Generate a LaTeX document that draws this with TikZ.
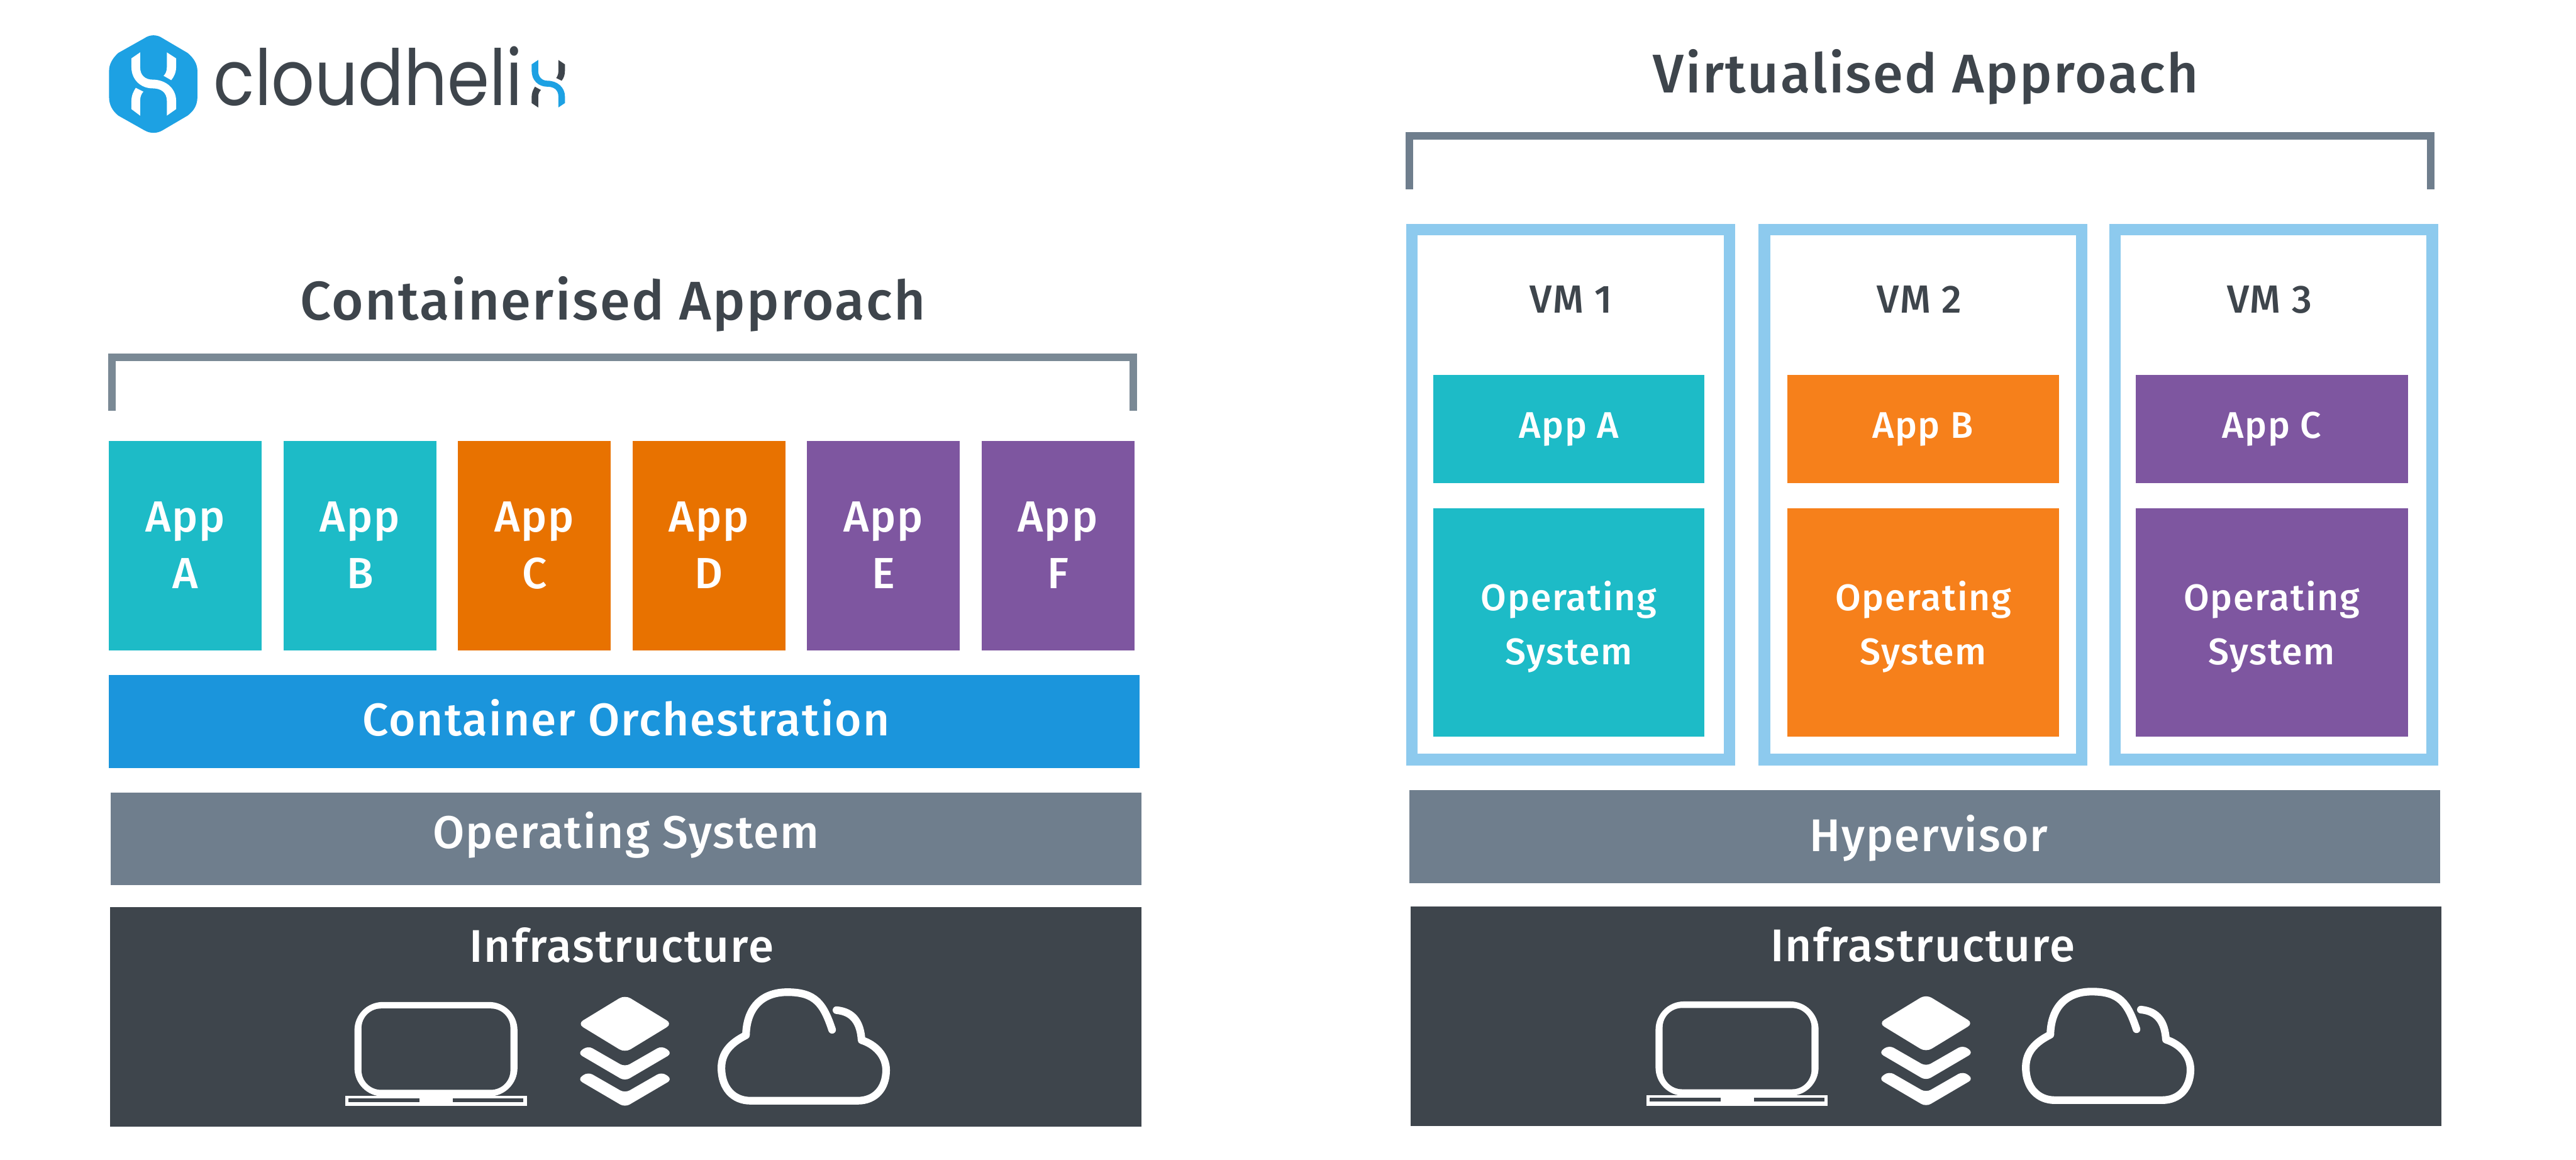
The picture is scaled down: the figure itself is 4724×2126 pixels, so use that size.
\documentclass[tikz,border=0pt]{standalone}
\usepackage{fontspec}
\setmainfont{Fira Sans Medium}[LetterSpace=2.8]
\newfontfamily\logofont{Poppins}
\definecolor{cteal}{HTML}{1DBBC7}
\definecolor{corangeL}{HTML}{E87200}
\definecolor{corangeR}{HTML}{F6801B}
\definecolor{cpurple}{HTML}{7E56A0}
\definecolor{cblue}{HTML}{1B95DC}
\definecolor{cgray}{HTML}{6F7E8D}
\definecolor{cbrack}{HTML}{7A8995}
\definecolor{cdark}{HTML}{3E454C}
\definecolor{cframe}{HTML}{8DCAEE}
\definecolor{clogo}{HTML}{1DA1E3}
\newcommand{\fpx}[1]{\fontsize{#1}{#1}\selectfont}
\tikzset{
  x=0.5pt,y=-0.5pt,
  lbl/.style={anchor=base,inner sep=0pt,outer sep=0pt,text=white},
  darklbl/.style={lbl,text=cdark},
  twolbl/.style={lbl,align=center,font=\fontsize{40}{52}\selectfont},
  oslbl/.style={lbl,align=center,font=\fontsize{34}{50}\selectfont},
  bracket/.style={draw=#1,line width=7pt,line cap=butt,line join=miter},
  vmframe/.style={draw=cframe,line width=10.5pt,fill=white,line join=miter},
  icon/.pic={
    % laptop
    \fill[white,rounded corners=26] (650,1837) rectangle (949,2010);
    \fill[cdark,rounded corners=18] (663,1849) rectangle (936,1998);
    \fill[white] (633,2009) rectangle (966,2028);
    \fill[cdark] (639,2014) rectangle (769,2021);
    \fill[cdark] (830,2014) rectangle (960,2021);
    % layers
    \fill[white,rounded corners=6] (1146,1824) -- (1233,1877) -- (1146,1930) -- (1059,1877) -- cycle;
    \foreach \d in {0,48}{
      \fill[white,rounded corners=5] (1078,1917+\d) -- (1146,1956+\d) -- (1214,1917+\d) -- (1233,1931+\d) -- (1146,1982+\d) -- (1059,1931+\d) -- cycle;
    }
  },
  cloudicon/.pic={
    \draw[white,line width=7pt,line cap=round,line join=round]
      (1526,1888) .. controls (1510,1840) and (1495,1819) .. (1444,1819)
      .. controls (1395,1819) and (1369,1850) .. (1368,1898)
      .. controls (1340,1912) and (1323,1930) .. (1323,1958)
      .. controls (1323,1995) and (1345,2018) .. (1376,2018)
      -- (1573,2018)
      .. controls (1605,2018) and (1625,1995) .. (1625,1962)
      .. controls (1625,1935) and (1605,1915) .. (1580,1907)
      .. controls (1578,1875) and (1565,1855) .. (1534,1852);
  }
}
\begin{document}
\begin{tikzpicture}
\useasboundingbox (0,0) rectangle (4724,2126);
\fill[white] (0,0) rectangle (4724,2126);

% ---- logo
\fill[clogo] (265,70) .. controls (275,63) and (288,63) .. (298,70) -- (344,97)
  .. controls (356,107) and (362,118) .. (362,130) -- (362,178)
  .. controls (362,192) and (356,203) .. (344,212) -- (298,239)
  .. controls (288,245) and (275,245) .. (265,239) -- (217,212)
  .. controls (206,203) and (200,192) .. (200,178) -- (200,130)
  .. controls (200,118) and (206,107) .. (217,97) -- cycle;
\fill[white] (257,96) -- (241,107) -- (241,123) .. controls (241,146) and (258,162) .. (280,162)
  .. controls (296,162) and (306,170) .. (306,185) -- (306,212) -- (323,200) -- (323,185)
  .. controls (323,162) and (304,146) .. (280,146) .. controls (266,146) and (257,138) .. (257,123) -- cycle;
\fill[white] (306,96) -- (323,107) -- (323,123) .. controls (323,133) and (319,141) .. (314,147)
  -- (300,139) .. controls (304,135) and (306,130) .. (306,123) -- cycle;
\fill[white] (257,212) -- (241,200) -- (241,185) .. controls (241,175) and (245,167) .. (249,161)
  -- (263,168) .. controls (259,172) and (257,178) .. (257,185) -- cycle;
\node[darklbl,anchor=base west,xscale=0.875,transform shape] (logotext) at (392,193) {\logofont\fontsize{71}{71}\selectfont cloudheli};
\fill[clogo] (987,110) -- (975,118) -- (975,130) .. controls (975,147) and (987,159) .. (1004,159)
  .. controls (1016,159) and (1024,165) .. (1024,177) -- (1024,197) -- (1036,189) -- (1036,177)
  .. controls (1036,160) and (1022,148) .. (1004,148) .. controls (994,148) and (987,141) .. (987,130) -- cycle;
\fill[cdark] (1024,110) -- (1036,118) -- (1036,130) .. controls (1036,137) and (1034,143) .. (1030,148)
  -- (1020,143) .. controls (1023,139) and (1024,135) .. (1024,130) -- cycle;
\fill[cdark] (987,197) -- (975,189) -- (975,177) .. controls (975,170) and (978,164) .. (981,159)
  -- (992,165) .. controls (989,168) and (987,172) .. (987,177) -- cycle;

% ---- left column
\node[darklbl] (titleL) at (1124,586) {\fpx{50}Containerised Approach};
\draw[bracket=cbrack] (205,753) -- (205,655) -- (2078,655) -- (2078,753);

\fill[cteal] (200,809) rectangle (480,1193);
\fill[cteal] (520,809) rectangle (800,1193);
\fill[corangeL] (840,809) rectangle (1120,1193);
\fill[corangeL] (1160,809) rectangle (1440,1193);
\fill[cpurple] (1480,809) rectangle (1760,1193);
\fill[cpurple] (1800,809) rectangle (2080,1193);

\node[twolbl] (appA) at (340,1079) {App\\A};
\node[twolbl] (appB) at (660,1079) {App\\B};
\node[twolbl] (appC) at (980,1079) {App\\C};
\node[twolbl] (appD) at (1300,1079) {App\\D};
\node[twolbl] (appE) at (1620,1079) {App\\E};
\node[twolbl] (appF) at (1940,1079) {App\\F};

\fill[cblue] (200,1238) rectangle (2090,1408);
\node[lbl] (orch) at (1148,1349) {\fpx{42}Container Orchestration};
\fill[cgray] (203,1453) rectangle (2093,1623);
\node[lbl] (osL) at (1148,1555) {\fpx{42}Operating System};
\fill[cdark] (202,1663) rectangle (2093,2065);
\node[lbl] (infraL) at (1140,1764) {\fpx{42}Infrastructure};
\pic {icon};
\pic {cloudicon};

% ---- right column
\node[darklbl] (titleR) at (3532,170) {\fpx{50}Virtualised Approach};
\draw[bracket=cgray] (2585,347) -- (2585,249) -- (4458,249) -- (4458,347);

\draw[vmframe] (2589.5,420.5) rectangle (3171.5,1392.5);
\draw[vmframe] (3235.5,420.5) rectangle (3817.5,1392.5);
\draw[vmframe] (3878.5,420.5) rectangle (4460.5,1392.5);

\node[darklbl] (vm1) at (2881,574) {\fpx{36}VM 1};
\node[darklbl] (vm2) at (3520,574) {\fpx{36}VM 2};
\node[darklbl] (vm3) at (4162,574) {\fpx{36}VM 3};

\fill[cteal] (2628,687) rectangle (3126,886);
\fill[corangeR] (3278,687) rectangle (3776,886);
\fill[cpurple] (3917,687) rectangle (4416,886);
\node[lbl] (rappA) at (2877,803) {\fpx{34}App A};
\node[lbl] (rappB) at (3526,803) {\fpx{34}App B};
\node[lbl] (rappC) at (4166,803) {\fpx{34}App C};

\fill[cteal] (2628,932) rectangle (3126,1350);
\fill[corangeR] (3278,932) rectangle (3776,1350);
\fill[cpurple] (3917,932) rectangle (4416,1350);
\node[oslbl] (rosA) at (2877,1219) {Operating\\System};
\node[oslbl] (rosB) at (3527,1219) {Operating\\System};
\node[oslbl] (rosC) at (4166,1219) {Operating\\System};

\fill[cgray] (2585,1449) rectangle (4475,1619);
\node[lbl] (hyper) at (3537,1561) {\fpx{42}Hypervisor};
\fill[cdark] (2587,1662) rectangle (4477,2064);
\node[lbl] (infraR) at (3526,1763) {\fpx{42}Infrastructure};
\pic[shift={(2386,-1)}] {icon};
\pic[shift={(2392,-1)}] {cloudicon};
\end{tikzpicture}
\end{document}
